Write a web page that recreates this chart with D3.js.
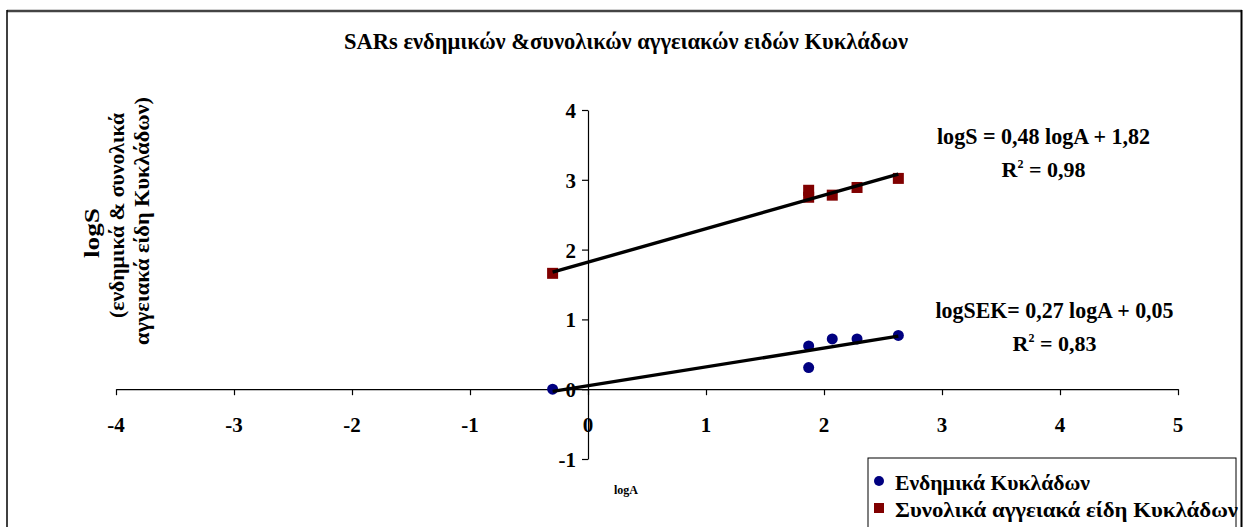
<!DOCTYPE html>
<html>
<head>
<meta charset="utf-8">
<script src="https://cdn.jsdelivr.net/npm/d3@7"></script>
<style>
  html, body { margin: 0; padding: 0; background: #fff; }
  svg { display: block; }
  text { font-family: "Liberation Serif", "DejaVu Serif", "Times New Roman", serif; font-weight: bold; fill: #000; }
</style>
</head>
<body>
<svg id="chart" width="1245" height="527"></svg>
<script>
// log(area) of the islands
const endemicLogA = [-0.30, 1.87, 1.87, 2.07, 2.28, 2.63];
const endemicLogS = [0.00, 0.62, 0.31, 0.72, 0.72, 0.77];
const totalLogA = [-0.30, 1.87, 1.87, 2.07, 2.28, 2.63];
const totalLogS = [1.66, 2.85, 2.75, 2.78, 2.89, 3.02];

// fitted power-law lines (log form): slope, intercept
const endemicFit = { slope: 0.27, intercept: 0.05, r2: "0,83" };
const totalFit = { slope: 0.48, intercept: 1.82, r2: "0,98" };

const xTicks = [-4, -3, -2, -1, 0, 1, 2, 3, 4, 5];
const yTicks = [-1, 0, 1, 2, 3, 4];

const seriesNames = ["Ενδημικά Κυκλάδων", "Συνολικά αγγειακά είδη Κυκλάδων"];
const seriesColors = ["#000080", "#800000"];

const svg = d3.select("#chart");

// outer chart frame
svg.append("line").attr("x1", 7).attr("x2", 1242).attr("y1", 11).attr("y2", 11)
  .attr("stroke", "#444").attr("stroke-width", 2.5);
svg.append("line").attr("x1", 7).attr("x2", 7).attr("y1", 10).attr("y2", 527)
  .attr("stroke", "#000").attr("stroke-width", 1.5);
svg.append("line").attr("x1", 1241.5).attr("x2", 1241.5).attr("y1", 10).attr("y2", 527)
  .attr("stroke", "#000").attr("stroke-width", 2);

const x = d3.scaleLinear().domain([-4, 5]).range([116, 1178]);
const y = d3.scaleLinear().domain([-1, 4]).range([459, 110]);

// axes crossing at the origin
const xAxis = svg.append("g").attr("transform", `translate(0,${y(0)})`)
  .call(d3.axisBottom(x).tickValues(xTicks).tickSize(6).tickSizeOuter(0).tickFormat(""));
const yAxis = svg.append("g").attr("transform", `translate(${x(0)},0)`)
  .call(d3.axisLeft(y).tickValues(yTicks).tickSize(6).tickSizeOuter(0).tickFormat(""));
[xAxis, yAxis].forEach(g => {
  g.select(".domain").attr("stroke", "#000").attr("stroke-width", 1.2);
  g.selectAll(".tick line").attr("stroke", "#000").attr("stroke-width", 1.2);
});

const tickFont = 21;
svg.append("g").selectAll("text").data(xTicks).join("text")
  .attr("x", d => x(d)).attr("y", y(0) + 43)
  .attr("text-anchor", "middle").attr("font-size", tickFont)
  .text(d => d);
svg.append("g").selectAll("text").data(yTicks).join("text")
  .attr("x", x(0) - 12).attr("y", d => y(d) + 8)
  .attr("text-anchor", "end").attr("font-size", tickFont)
  .text(d => d);

// regression lines across the sampled range
function fitLine(fit, xs) {
  const [a, b] = d3.extent(xs);
  return [[a, fit.slope * a + fit.intercept], [b, fit.slope * b + fit.intercept]];
}
const line = d3.line().x(d => x(d[0])).y(d => y(d[1]));

// markers
svg.append("g").selectAll("rect").data(d3.zip(totalLogA, totalLogS)).join("rect")
  .attr("x", d => x(d[0]) - 5.5).attr("y", d => y(d[1]) - 5.5)
  .attr("width", 11).attr("height", 11).attr("fill", seriesColors[1]);
svg.append("g").selectAll("circle").data(d3.zip(endemicLogA, endemicLogS)).join("circle")
  .attr("cx", d => x(d[0])).attr("cy", d => y(d[1])).attr("r", 5.5)
  .attr("fill", seriesColors[0]);

svg.append("path").attr("d", line(fitLine(totalFit, totalLogA)))
  .attr("stroke", "#000").attr("stroke-width", 3.4).attr("fill", "none");
svg.append("path").attr("d", line(fitLine(endemicFit, endemicLogA)))
  .attr("stroke", "#000").attr("stroke-width", 3.4).attr("fill", "none");

// text laid out to a given width (narrow, tall lettering)
function fitted(sel, width, adjust) {
  return sel.attr("textLength", width).attr("lengthAdjust", adjust || "spacingAndGlyphs");
}

// equations
function fmt(v) { return v.toFixed(2).replace(".", ","); }
function equation(label, fit, cx, w, y1, y2) {
  fitted(svg.append("text").attr("x", cx - w / 2).attr("y", y1)
    .attr("font-size", 23)
    .text(`${label}= ${fmt(fit.slope)} logA + ${fmt(fit.intercept)}`), w);
  const t = svg.append("text").attr("x", cx).attr("y", y2).attr("text-anchor", "middle")
    .attr("font-size", 22);
  t.append("tspan").text("R");
  t.append("tspan").attr("font-size", 12).attr("dy", -9).text("2");
  t.append("tspan").attr("dy", 9).text(` = ${fit.r2}`);
}
equation("logS ", totalFit, 1043.5, 213, 144, 177);
equation("logSEK", endemicFit, 1054.5, 238, 318, 351);

// title
fitted(svg.append("text").attr("x", 344).attr("y", 49)
  .attr("font-size", 23)
  .text("SARs ενδημικών &συνολικών αγγειακών ειδών Κυκλάδων"), 564);

// y-axis title (three lines)
const yTitle = [
  { t: "logS", x: 92, c: 233, w: 50 },
  { t: "(ενδημικά & συνολικά", x: 117, c: 215.5, w: 205 },
  { t: "αγγειακά είδη Κυκλάδων)", x: 142, c: 221, w: 248 }
];
svg.append("g").selectAll("text").data(yTitle).join("text")
  .attr("transform", d => `translate(${d.x + 7},${d.c + d.w / 2}) rotate(-90)`)
  .attr("font-size", 21)
  .attr("textLength", d => d.w).attr("lengthAdjust", "spacingAndGlyphs")
  .text(d => d.t);

// x-axis title
svg.append("text").attr("x", 626).attr("y", 494).attr("text-anchor", "middle")
  .attr("font-size", 12).text("logA");

// legend
svg.append("rect").attr("x", 868).attr("y", 458).attr("width", 368).attr("height", 80)
  .attr("fill", "#fff").attr("stroke", "#000").attr("stroke-width", 1);
svg.append("circle").attr("cx", 879).attr("cy", 481).attr("r", 5).attr("fill", seriesColors[0]);
svg.append("rect").attr("x", 874).attr("y", 503).attr("width", 10).attr("height", 10).attr("fill", seriesColors[1]);
const legendWidths = [195, 343];
svg.append("g").selectAll("text").data(seriesNames).join("text")
  .attr("x", 895).attr("y", (d, i) => 490 + i * 27)
  .attr("font-size", 20)
  .attr("textLength", (d, i) => legendWidths[i]).attr("lengthAdjust", "spacingAndGlyphs")
  .text(d => d);
</script>
</body>
</html>
